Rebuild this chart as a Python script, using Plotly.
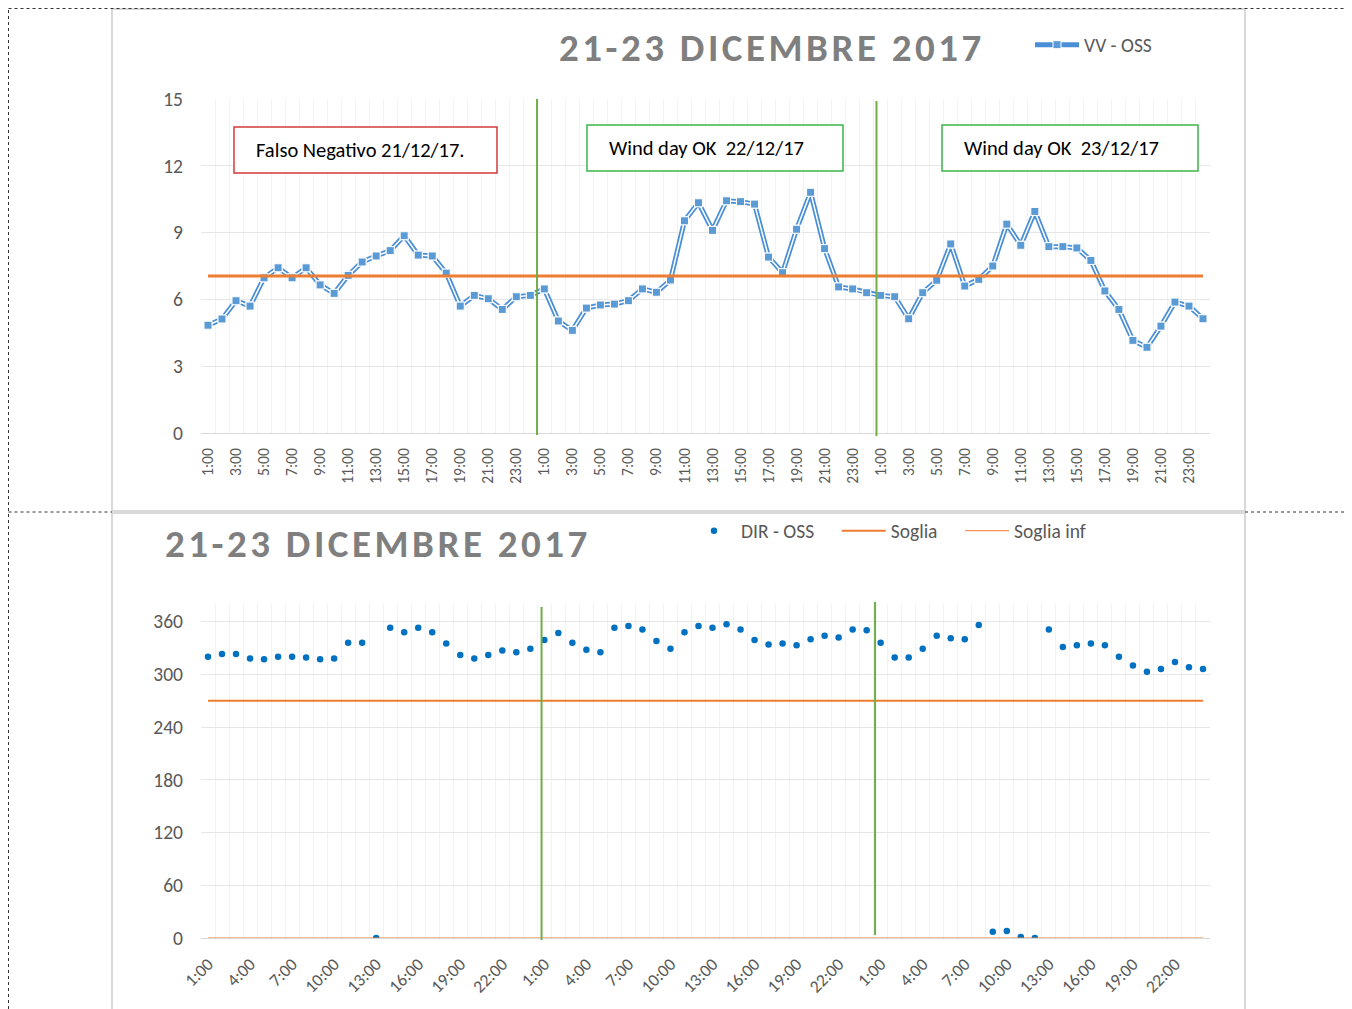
import plotly.graph_objects as go

# The page body adds an 8 px margin, so the figure is drawn 8 px in from the
# window corner; reference pixel positions are converted with that offset.
WIN_W, WIN_H = 1352, 1009
OFF_X, OFF_Y = 8, 8
W, H = WIN_W - OFF_X, WIN_H - OFF_Y

# ---------------- data ----------------
HOUR_LABELS = ["1:00", "2:00", "3:00", "4:00", "5:00", "6:00", "7:00", "8:00",
               "9:00", "10:00", "11:00", "12:00", "13:00", "14:00", "15:00", "16:00",
               "17:00", "18:00", "19:00", "20:00", "21:00", "22:00", "23:00", "24:00"]
CATEGORIES = HOUR_LABELS * 3  # 21, 22, 23 dicembre 2017

VV_OSS = [4.84, 5.12, 5.94, 5.70, 6.97, 7.42, 6.97, 7.42, 6.65, 6.27, 7.08, 7.68,
          7.95, 8.19, 8.86, 7.99, 7.95, 7.18, 5.70, 6.18, 6.03, 5.55, 6.12, 6.18,
          6.47, 5.03, 4.61, 5.61, 5.75, 5.79, 5.94, 6.47, 6.32, 6.87, 9.53, 10.34,
          9.10, 10.43, 10.39, 10.28, 7.90, 7.20, 9.15, 10.81, 8.28, 6.56, 6.47, 6.30,
          6.18, 6.12, 5.13, 6.30, 6.86, 8.49, 6.60, 6.90, 7.50, 9.38, 8.43, 9.95,
          8.37, 8.37, 8.31, 7.75, 6.38, 5.55, 4.16, 3.85, 4.80, 5.88, 5.70, 5.13]
SOGLIA_VV = 7.05

DIR_OSS = [320, 323, 323, 318, 317, 320, 320, 319, 317, 318, 336, 336,
           0, 353, 348, 353, 348, 335, 322, 318, 322, 327, 325, 329,
           339, 347, 336, 328, 325, 353, 355, 351, 338, 329, 348, 355,
           353, 357, 351, 339, 334, 335, 333, 340, 344, 342, 351, 350,
           336, 319, 319, 329, 344, 341, 340, 356, 7, 8, 1, 0,
           351, 331, 333, 335, 333, 320, 310, 303, 306, 314, 308, 306]
SOGLIA_DIR = 270
SOGLIA_DIR_INF = 0

DAY_BREAKS_TOP = [23.48, 47.7]
DAY_BREAKS_BOTTOM = [23.8, 47.6]

TOP_TICK_IDX = list(range(0, 72, 2))
BOTTOM_TICK_IDX = list(range(0, 72, 3))

X = list(range(len(CATEGORIES)))

FONT = "Calibri, Carlito, Lato, sans-serif"
GRAY_TXT = "#595959"
BLUE_LINE = "#4A8FD6"
BLUE_MK = "#5B9BD5"
ORANGE = "#ED7D31"
GREEN = "#70AD47"
NB = "\u00a0"


def fx(p):
    return (p - OFF_X) / W


def fy(p):
    return 1 - (p - OFF_Y) / H


fig = go.Figure()

# ---------------- top chart ----------------
fig.add_trace(go.Scatter(
    x=X, y=VV_OSS, mode="lines+markers", name="VV - OSS",
    line=dict(color=BLUE_LINE, width=5),
    marker=dict(symbol="square", size=8, color=BLUE_MK, line=dict(color="white", width=1)),
    xaxis="x", yaxis="y", legend="legend"))
fig.add_trace(go.Scatter(
    x=X, y=VV_OSS, mode="lines", showlegend=False, hoverinfo="skip",
    line=dict(color="white", width=1.5), xaxis="x", yaxis="y"))
fig.add_trace(go.Scatter(
    x=X, y=VV_OSS, mode="markers", showlegend=False,
    marker=dict(symbol="square", size=8, color=BLUE_MK, line=dict(color="white", width=1)),
    xaxis="x", yaxis="y"))
fig.add_trace(go.Scatter(
    x=X, y=[SOGLIA_VV] * len(X), mode="lines", showlegend=False, hoverinfo="skip",
    line=dict(color=ORANGE, width=3), xaxis="x", yaxis="y"))

# ---------------- bottom chart ----------------
fig.add_trace(go.Scatter(
    x=X, y=DIR_OSS, mode="markers", name="DIR - OSS" + NB * 4,
    marker=dict(symbol="circle", size=6.5, color="#0070C0"),
    xaxis="x2", yaxis="y2", legend="legend2"))
fig.add_trace(go.Scatter(
    x=X, y=[SOGLIA_DIR] * len(X), mode="lines", name="Soglia" + NB * 4,
    line=dict(color=ORANGE, width=2), xaxis="x2", yaxis="y2", legend="legend2"))
fig.add_trace(go.Scatter(
    x=X, y=[SOGLIA_DIR_INF] * len(X), mode="lines", name="Soglia inf",
    line=dict(color=ORANGE, width=1), xaxis="x2", yaxis="y2", legend="legend2"))

grid_minor = dict(tickmode="linear", tick0=-0.5, dtick=1, showgrid=True,
                  gridcolor="#F2F2F2", gridwidth=1, ticks="")

fig.update_layout(
    width=W, height=H, autosize=False,
    margin=dict(l=0, r=0, t=0, b=0, pad=0, autoexpand=False),
    paper_bgcolor="white", plot_bgcolor="white",
    font=dict(family=FONT, color=GRAY_TXT),
    xaxis=dict(domain=[fx(201), fx(1210)], range=[-0.5, 71.5], anchor="y",
               tickmode="array", tickvals=TOP_TICK_IDX,
               ticktext=[CATEGORIES[i] for i in TOP_TICK_IDX],
               tickangle=-90, tickfont=dict(size=15.5, color=GRAY_TXT, family=FONT),
               showgrid=False, zeroline=False, showline=True, linecolor="#D9D9D9",
               ticks="", ticklabelstandoff=8, minor=grid_minor, automargin=False),
    yaxis=dict(domain=[fy(433), fy(99)], range=[0, 15], anchor="x",
               tickmode="array", tickvals=[0, 3, 6, 9, 12, 15],
               tickfont=dict(size=19.5, color=GRAY_TXT, family=FONT),
               showgrid=True, gridcolor="#E6E6E6", zeroline=False, showline=False,
               ticks="", ticklabelstandoff=17, automargin=False),
    xaxis2=dict(domain=[fx(201), fx(1210)], range=[-0.5, 71.5], anchor="y2",
                tickmode="array", tickvals=BOTTOM_TICK_IDX,
                ticktext=[CATEGORIES[i] for i in BOTTOM_TICK_IDX],
                tickangle=-45, tickfont=dict(size=17.5, color=GRAY_TXT, family=FONT),
                showgrid=False, zeroline=False, showline=True, linecolor="#D9D9D9",
                ticks="", ticklabelstandoff=8, minor=grid_minor, automargin=False),
    yaxis2=dict(domain=[fy(938), fy(604)], range=[0, 380], anchor="x2",
                tickmode="array", tickvals=[0, 60, 120, 180, 240, 300, 360],
                tickfont=dict(size=19.5, color=GRAY_TXT, family=FONT),
                showgrid=True, gridcolor="#E6E6E6", zeroline=False, showline=False,
                ticks="", ticklabelstandoff=17, automargin=False),
    legend=dict(x=fx(1030), y=fy(45), xanchor="left", yanchor="middle",
                orientation="h", bgcolor="rgba(0,0,0,0)", itemwidth=44,
                font=dict(size=19.5, color=GRAY_TXT, family=FONT)),
    legend2=dict(x=fx(687), y=fy(531), xanchor="left", yanchor="middle",
                 orientation="h", bgcolor="rgba(0,0,0,0)", itemwidth=44,
                 font=dict(size=19.5, color=GRAY_TXT, family=FONT)),
    showlegend=True,
)

shapes = []
# day separators (green)
for xb, y0, y1 in zip(DAY_BREAKS_TOP, [435, 436], [99, 101]):
    shapes.append(dict(type="line", xref="x", yref="paper", x0=xb, x1=xb,
                       y0=fy(y0), y1=fy(y1), line=dict(color=GREEN, width=2)))
for xb, y0, y1 in zip(DAY_BREAKS_BOTTOM, [940, 935], [607, 602]):
    shapes.append(dict(type="line", xref="x2", yref="paper", x0=xb, x1=xb,
                       y0=fy(y0), y1=fy(y1), line=dict(color=GREEN, width=2)))

# annotation boxes
BOXES = [
    ("Falso Negativo 21/12/17.", 234, 127, 497, 173, "#D23B3B"),
    ("Wind day OK  22/12/17", 587, 125, 843, 171, "#3BB54A"),
    ("Wind day OK  23/12/17", 942, 125, 1198, 171, "#3BB54A"),
]
annotations = []
for text, x0, y0, x1, y1, col in BOXES:
    shapes.append(dict(type="rect", xref="paper", yref="paper",
                       x0=fx(x0), x1=fx(x1), y0=fy(y1), y1=fy(y0),
                       line=dict(color=col, width=1.5), fillcolor="white", layer="above"))
    annotations.append(dict(text=text.replace("  ", NB + " "), xref="paper", yref="paper",
                            x=fx(x0 + 20), y=fy((y0 + y1) / 2), xanchor="left", yanchor="middle",
                            showarrow=False, font=dict(size=20.5, color="black", family=FONT)))

# titles
TITLE = "21-23 DICEMBRE 2017"
title_html = '<span style="letter-spacing:3.5px">' + TITLE + "</span>"
annotations.append(dict(text="<b>" + title_html + "</b>", xref="paper", yref="paper",
                        x=fx(772), y=fy(47), xanchor="center", yanchor="middle", showarrow=False,
                        font=dict(size=39, color="#7F7F7F", family=FONT)))
annotations.append(dict(text="<b>" + title_html + "</b>", xref="paper", yref="paper",
                        x=fx(163), y=fy(543), xanchor="left", yanchor="middle", showarrow=False,
                        font=dict(size=39, color="#7F7F7F", family=FONT)))

# chart frames (light gray)
frame = dict(color="#D9D9D9", width=2)
shapes += [
    dict(type="line", xref="paper", yref="paper", x0=fx(112), x1=fx(112), y0=fy(1009), y1=fy(9), line=frame),
    dict(type="line", xref="paper", yref="paper", x0=fx(1245), x1=fx(1245), y0=fy(1009), y1=fy(9), line=frame),
    dict(type="line", xref="paper", yref="paper", x0=fx(112), x1=fx(1245), y0=fy(9), y1=fy(9), line=frame),
    dict(type="line", xref="paper", yref="paper", x0=fx(112), x1=fx(1245), y0=fy(512), y1=fy(512),
         line=dict(color="#D9D9D9", width=4)),
]
# page dashed borders
dash = dict(color="#333333", width=1, dash="dot")
shapes += [
    dict(type="line", xref="paper", yref="paper", x0=fx(8.5), x1=fx(8.5), y0=fy(1009), y1=fy(8.5), line=dash),
    dict(type="line", xref="paper", yref="paper", x0=fx(1349), x1=fx(1349), y0=fy(1009), y1=fy(8.5), line=dash),
    dict(type="line", xref="paper", yref="paper", x0=fx(8.5), x1=fx(1349), y0=fy(8.5), y1=fy(8.5), line=dash),
    dict(type="line", xref="paper", yref="paper", x0=fx(8.5), x1=fx(112), y0=fy(512), y1=fy(512), line=dash),
    dict(type="line", xref="paper", yref="paper", x0=fx(1245), x1=fx(1349), y0=fy(512), y1=fy(512), line=dash),
]

fig.update_layout(shapes=shapes, annotations=annotations)
fig.write_html("out.html")
